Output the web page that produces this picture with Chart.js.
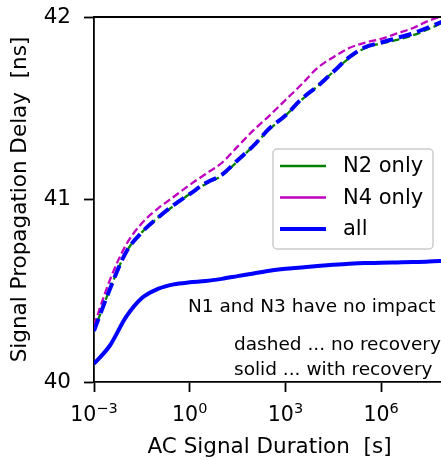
<!DOCTYPE html>
<html>
<head>
<meta charset="utf-8">
<script src="https://cdn.jsdelivr.net/npm/chart.js@4"></script>
<style>
  body { margin: 0; overflow: hidden; background: #fff; }
  #wrap { width: 450px; height: 460px; }
</style>
</head>
<body>
<div id="wrap"><canvas id="delayChart" width="450" height="460"></canvas></div>
<script>
// AC signal duration [s] (log spaced)
const durations = [1e-3, 3.16e-3, 1e-2, 3.16e-2, 1e-1, 3.16e-1, 1, 3.16, 10, 31.6, 100, 316,
                   1e3, 3.16e3, 1e4, 3.16e4, 1e5, 3.16e5, 1e6, 3.16e6, 1e7, 3.16e7, 1e8];

// propagation delay [ns]
const n2Only     = [40.28, 40.51, 40.71, 40.82, 40.90, 40.965, 41.03, 41.085, 41.13, 41.21, 41.295, 41.385,
                    41.46, 41.545, 41.62, 41.70, 41.775, 41.83, 41.855, 41.875, 41.90, 41.935, 41.975];
const n4Only     = [40.31, 40.56, 40.75, 40.87, 40.95, 41.015, 41.08, 41.14, 41.20, 41.29, 41.38, 41.46,
                    41.545, 41.63, 41.72, 41.78, 41.83, 41.86, 41.88, 41.91, 41.94, 41.98, 42.01];
const allNoRec   = [40.28, 40.51, 40.71, 40.82, 40.90, 40.97, 41.03, 41.09, 41.135, 41.215, 41.295, 41.39,
                    41.46, 41.55, 41.62, 41.70, 41.78, 41.835, 41.86, 41.885, 41.91, 41.945, 41.98];
const allWithRec = [40.10, 40.20, 40.355, 40.46, 40.51, 40.535, 40.546, 40.553, 40.565, 40.58, 40.595, 40.61,
                    40.62, 40.627, 40.635, 40.642, 40.648, 40.652, 40.653, 40.655, 40.657, 40.66, 40.665];

const xTickVals = [1e-3, 1, 1e3, 1e6];
const xTickExp  = ['\u22123', '0', '3', '6'];
const yTickVals = [40, 41, 42];

const legendLabels = ['N2 only', 'N4 only', 'all'];
const legendColors = ['#008000', '#bf00bf', '#0000ff'];
const legendWidths = [2.3, 2.3, 4];

const notes = ['N1 and N3 have no impact', 'dashed ... no recovery', 'solid ... with recovery'];

const FONT = '"DejaVu Sans", sans-serif';

function pts(ys) {
    return ys.map((y, i) => ({ x: durations[i], y: y }));
}

// top spine, x tick labels with exponents, legend and notes
const extras = {
    id: 'extras',
    afterDraw(chart) {
        const c = chart.ctx;
        const area = chart.chartArea;
        const xs = chart.scales.x;
        c.save();
        c.strokeStyle = '#000';
        c.lineWidth = 1.8;
        c.beginPath();
        c.moveTo(area.left - 0.9, area.top);
        c.lineTo(area.right, area.top);
        c.stroke();

        // x tick labels 10^n
        c.fillStyle = '#000';
        c.textBaseline = 'alphabetic';
        c.textAlign = 'left';
        xTickVals.forEach((v, i) => {
            const px = xs.getPixelForValue(v);
            c.font = '20.5px ' + FONT;
            const wb = c.measureText('10').width;
            c.font = '14.5px ' + FONT;
            const we = c.measureText(xTickExp[i]).width;
            const x0 = px - (wb + we) / 2;
            c.font = '20.5px ' + FONT;
            c.fillText('10', x0, 421);
            c.font = '14.5px ' + FONT;
            c.fillText(xTickExp[i], x0 + wb, 413);
        });

        // legend
        const lx = 273, ly = 149, lw = 160, lh = 100, r = 4;
        c.fillStyle = 'rgba(255,255,255,0.8)';
        c.strokeStyle = '#cccccc';
        c.lineWidth = 1.5;
        c.beginPath();
        c.moveTo(lx + r, ly);
        c.arcTo(lx + lw, ly, lx + lw, ly + lh, r);
        c.arcTo(lx + lw, ly + lh, lx, ly + lh, r);
        c.arcTo(lx, ly + lh, lx, ly, r);
        c.arcTo(lx, ly, lx + lw, ly, r);
        c.closePath();
        c.fill();
        c.stroke();
        c.font = '21px ' + FONT;
        c.textBaseline = 'middle';
        legendLabels.forEach((lab, i) => {
            const y = 166 + i * 31.5;
            c.strokeStyle = legendColors[i];
            c.lineWidth = legendWidths[i];
            c.beginPath();
            c.moveTo(280, y);
            c.lineTo(326, y);
            c.stroke();
            c.fillStyle = '#000';
            c.fillText(lab, 343, y + 1);
        });

        // notes
        c.font = '18.5px ' + FONT;
        c.fillStyle = '#000';
        c.fillText(notes[0], 188, 307);
        c.fillText(notes[1], 234, 345);
        c.fillText(notes[2], 234, 370);
        c.restore();
    }
};

const ctx = document.getElementById('delayChart');
const delayChart = new Chart(ctx, {
    type: 'line',
    data: {
        datasets: [{
            label: 'all (with recovery)',
            data: pts(allWithRec),
            borderColor: '#0000ff',
            borderWidth: 4,
        }, {
            label: 'all',
            data: pts(allNoRec),
            borderColor: '#0000ff',
            borderWidth: 4,
            borderDash: [13, 6],
        }, {
            label: 'N4 only',
            data: pts(n4Only),
            borderColor: '#bf00bf',
            borderWidth: 2.3,
            borderDash: [7.5, 3.5],
        }, {
            label: 'N2 only',
            data: pts(n2Only),
            borderColor: '#008000',
            borderWidth: 2.3,
            borderDash: [7.5, 3.5],
        }]
    },
    options: {
        responsive: false,
        animation: false,
        devicePixelRatio: 1,
        layout: { padding: { top: 17, right: 5, left: 0, bottom: 0 } },
        elements: {
            point: { radius: 0 },
            line: { tension: 0.4, cubicInterpolationMode: 'monotone', fill: false }
        },
        plugins: {
            legend: { display: false },
            tooltip: { enabled: false }
        },
        scales: {
            x: {
                type: 'logarithmic',
                min: 1e-3,
                max: 1e8,
                bounds: 'data',
                afterBuildTicks: (s) => { s.ticks = xTickVals.map(v => ({ value: v })); },
                afterFit: (s) => { s.height = 78; s.paddingLeft = 0; s.paddingRight = 0; },
                ticks: { callback: () => '', maxRotation: 0 },
                grid: { drawOnChartArea: false, drawTicks: true, tickLength: 10, tickWidth: 1.8, tickColor: '#000' },
                border: { display: true, color: '#000', width: 1.8 },
                title: {
                    display: true,
                    text: 'AC Signal Duration  [s]',
                    color: '#000',
                    font: { family: FONT, size: 21.5 },
                    padding: { top: 0, bottom: 0 }
                }
            },
            y: {
                min: 40,
                max: 42,
                afterBuildTicks: (s) => { s.ticks = yTickVals.map(v => ({ value: v })); },
                afterFit: (s) => { s.width = 94; s.paddingTop = 0; s.paddingBottom = 0; },
                ticks: { color: '#000', font: { family: FONT, size: 21.5 }, padding: 13 },
                grid: { drawOnChartArea: false, drawTicks: true, tickLength: 10, tickWidth: 1.8, tickColor: '#000' },
                border: { display: true, color: '#000', width: 1.8 },
                title: {
                    display: true,
                    text: 'Signal Propagation Delay  [ns]',
                    color: '#000',
                    font: { family: FONT, size: 21.5 },
                    padding: { top: 8, bottom: 0 }
                }
            }
        }
    },
    plugins: [extras]
});
</script>
</body>
</html>
